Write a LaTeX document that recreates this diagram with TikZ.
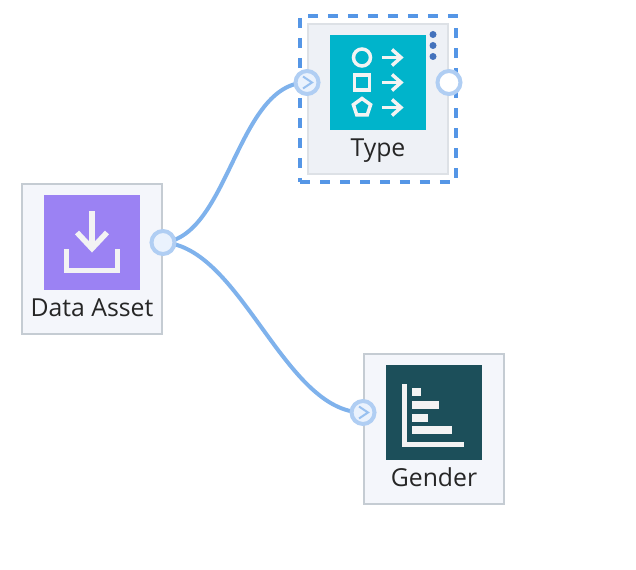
\documentclass[tikz,border=0pt]{standalone}
\usepackage{fontspec}
\setmainfont{Open Sans}
\usetikzlibrary{
  positioning,
  fit,
  backgrounds
}
\definecolor{tileGray}{HTML}{C5CCD3}
\definecolor{tileFill}{HTML}{F4F6FB}
\definecolor{pickFill}{HTML}{EEF1F6}
\definecolor{pickGray}{HTML}{DDE1E6}
\definecolor{pickBlue}{HTML}{5596E6}
\definecolor{linkBlue}{HTML}{7FB2EC}
\definecolor{portBlue}{HTML}{B0CEF3}
\definecolor{portFill}{HTML}{EAF2FD}
\definecolor{dotBlue}{HTML}{4472BC}
\definecolor{assetPurple}{HTML}{9B82F3}
\definecolor{typeTeal}{HTML}{00B4CB}
\definecolor{genderDark}{HTML}{1C4F5A}
\definecolor{glyphWhite}{HTML}{F3F3F3}
\tikzset{
  tile/.style      = {rectangle, draw=tileGray, fill=tileFill, line width=0.04cm,
                      minimum width=2.8cm, minimum height=3cm, inner sep=0pt},
  picktile/.style  = {tile, draw=pickGray, fill=pickFill},
  iconbox/.style   = {rectangle, minimum size=1.92cm, inner sep=0pt, outer sep=0pt},
  tilelabel/.style = {font=\fontsize{14.1}{14.1}\selectfont, text=black!85, inner sep=0pt,
                      text height=0.38cm, text depth=0.02cm},
  selectbox/.style = {rectangle, draw=pickBlue, line width=0.08cm, inner sep=0.14cm,
                      dash pattern=on 0.2cm off 0.2cm},
  port/.style      = {circle, draw=portBlue, fill=portFill, line width=0.08cm,
                      minimum size=0.46cm, inner sep=0pt},
  link/.style      = {draw=linkBlue, line width=0.08cm},
  chevron/.style   = {draw=linkBlue!80, line width=0.04cm},
  glyph/.style     = {draw=glyphWhite, line width=0.07cm},
  glyphfat/.style  = {draw=glyphWhite, line width=0.11cm},
  glyphbar/.style  = {fill=glyphWhite}
}
\begin{document}
\begin{tikzpicture}[x=0.02cm, y=-0.02cm]
\useasboundingbox (0,0) rectangle (636,570);

% tiles
\node[tile]     (assetbox)  at (92,259)  {};
\node[picktile] (typebox)   at (378,99)  {};
\node[tile]     (genderbox) at (434,429) {};
\node[selectbox, fit=(typebox)] (typeselect) {};

\node[iconbox, fill=assetPurple, below=0.23cm of assetbox.north]  (asseticon)  {};
\node[iconbox, fill=typeTeal,    below=0.23cm of typebox.north]   (typeicon)   {};
\node[iconbox, fill=genderDark,  below=0.23cm of genderbox.north] (gendericon) {};

\node[tilelabel, below=0.14cm of asseticon]  (assetlabel)  {Data Asset};
\node[tilelabel, below=0.14cm of typeicon]   (typelabel)   {Type};
\node[tilelabel, below=0.14cm of gendericon] (genderlabel) {Gender};

% ports
\node[port] (assetout) at (assetbox.east |- asseticon) {};
\node[port] (typein)   at (typebox.west |- typeicon) {};
\node[port, fill=white] (typeout) at (typebox.east |- typeicon) {};
\node[port] (genderin) at (genderbox.west |- gendericon) {};

% links
\begin{scope}[on background layer]
\draw[link] (assetout.center) .. controls +(66,-6) and +(-70,0) .. (typein.center);
\draw[link] (assetout.center) .. controls +(78,4) and +(-79,0) .. (genderin.center);
\end{scope}

\draw[chevron] ([shift={(-4,-6)}]typein.center) -- ([shift={(5,0)}]typein.center) -- ([shift={(-4,6)}]typein.center);
\draw[chevron] ([shift={(-4,-6)}]genderin.center) -- ([shift={(5,0)}]genderin.center) -- ([shift={(-4,6)}]genderin.center);

% download glyph
\begin{scope}[shift={(asseticon)}]
\draw[glyphfat] (0,-31) -- (0,6);
\draw[glyphfat] (-15,-10) -- (0,6) -- (15,-10);
\draw[glyphfat] (-25.5,7) -- (-25.5,28) -- (25.5,28) -- (25.5,7);
\end{scope}

% shapes glyph
\begin{scope}[shift={(typeicon)}]
\draw[glyph] (-16,-25) circle (8.5);
\draw[glyph] (-23.5,-7.5) rectangle (-8.5,7.5);
\draw[glyph] (-16,16) -- (-7.4,22.2) -- (-10.7,32.3) -- (-21.3,32.3) -- (-24.6,22.2) -- cycle;
\foreach \y in {-25,0,25} {
  \draw[glyph] (4,\y) -- (23,\y);
  \draw[glyph] (14,\y-8) -- (23,\y) -- (14,\y+8);
}
\foreach \y in {-48,-37,-26}
  \fill[dotBlue] (55,\y) circle (3.5);
\end{scope}

% bars glyph
\begin{scope}[shift={(gendericon)}]
\draw[glyphfat] (-29.5,-28) -- (-29.5,32) -- (30.3,32);
\fill[glyphbar] (-21.7,-24) rectangle (-13,-16);
\fill[glyphbar] (-21.7,-11.3) rectangle (4.7,-3.7);
\fill[glyphbar] (-21.7,1.3) rectangle (-5.7,9.3);
\fill[glyphbar] (-21.7,13.7) rectangle (17.7,22);
\end{scope}
\end{tikzpicture}
\end{document}
